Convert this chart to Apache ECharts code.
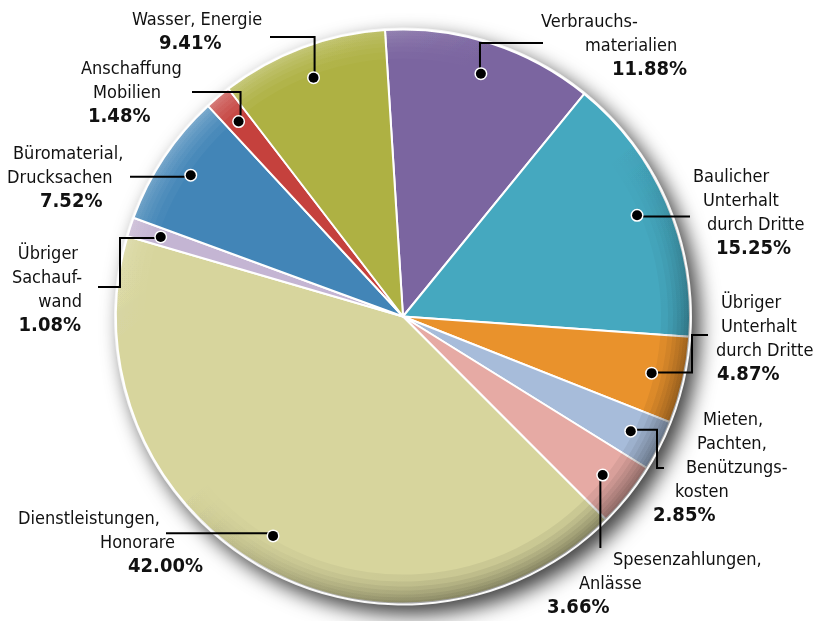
<!DOCTYPE html>
<html>
<head>
<meta charset="utf-8">
<script src="https://cdn.jsdelivr.net/npm/echarts@6/dist/echarts.min.js"></script>
<style>html,body{margin:0;padding:0;background:#fff}#c{width:816px;height:621px}</style>
</head>
<body>
<div id="c"></div>
<script>
// ---- data ----
const categories = ['Verbrauchsmaterialien', 'Baulicher Unterhalt durch Dritte', 'Übriger Unterhalt durch Dritte',
  'Mieten, Pachten, Benützungskosten', 'Spesenzahlungen, Anlässe', 'Dienstleistungen, Honorare',
  'Übriger Sachaufwand', 'Büromaterial, Drucksachen', 'Anschaffung Mobilien', 'Wasser, Energie'];
const values = [11.88, 15.25, 4.87, 2.85, 3.66, 42.00, 1.08, 7.52, 1.48, 9.41];
const labelLines = [
  ['Verbrauchs-', 'materialien'],
  ['Baulicher', 'Unterhalt', 'durch Dritte'],
  ['Übriger', 'Unterhalt', 'durch Dritte'],
  ['Mieten,', 'Pachten,', 'Benützungs-', 'kosten'],
  ['Spesenzahlungen,', 'Anlässe'],
  ['Dienstleistungen,', 'Honorare'],
  ['Übriger', 'Sachauf-', 'wand'],
  ['Büromaterial,', 'Drucksachen'],
  ['Anschaffung', 'Mobilien'],
  ['Wasser, Energie']
];
const colors = ['#7B65A0', '#45A8BF', '#E9922C', '#A7BCDA', '#E6AAA4', '#D7D59D', '#C4B5D3', '#4285B7', '#C5413D', '#AEB143'];

// ---- layout / style (positions of annotation texts and callout routes) ----
const labelPlace = [
  {x: 541, y: 10, align: 'left', dx: [0, 44, 71]},
  {x: 693, y: 165, align: 'left', dx: [0, 10, 14, 23]},
  {x: 716, y: 291, align: 'left', dx: [5, 5, 0, 1]},
  {x: 653, y: 408, align: 'left', dx: [50, 44, 33, 22, 0]},
  {x: 547, y: 548, align: 'left', dx: [66, 32, 0]},
  {x: 18, y: 507, align: 'left', dx: [0, 82, 110]},
  {x: 82, y: 242, align: 'right', dx: [-4, 0, 0, -1]},
  {x: 7, y: 142, align: 'left', dx: [6, 0, 33]},
  {x: 81, y: 57, align: 'left', dx: [0, 12, 7]},
  {x: 132, y: 8, align: 'left', dx: [0, 27]}
];
const routes = [
  [['y', 43], ['x', 543]],
  [['x', 690]],
  [['x', 692], ['y', 335], ['x', 708]],
  [['x', 657], ['y', 468], ['x', 664]],
  [['y', 548]],
  [['x', 166]],
  [['x', 120], ['y', 287], ['x', 98]],
  [['x', 130]],
  [['y', 92], ['x', 192]],
  [['y', 37], ['x', 270]]
];

const FONT = '"DejaVu Sans Condensed", "Liberation Sans Narrow", "Open Sans", sans-serif';
const CENTER = [403, 316.5];
const R = 287;
const R_DOT = 252;
const START = 93.6;
const RING_STARTS = [258, 265, 270, 274, 278, 281, 284];

function buildLabel(i) {
  const lines = labelLines[i].concat([values[i].toFixed(2) + '%']);
  const place = labelPlace[i];
  const rich = {};
  const parts = lines.map((t, k) => {
    const d = place.dx[k] || 0;
    const bold = k === lines.length - 1;
    rich['l' + k] = {
      fontFamily: FONT,
      fontSize: bold ? 20 : 18,
      fontWeight: bold ? 'bold' : 'normal',
      color: '#111',
      lineHeight: 24,
      align: place.align,
      padding: place.align === 'right' ? [0, -d, 0, 0] : [0, 0, 0, d]
    };
    return '{l' + k + '|' + t + '}';
  });
  return {formatter: parts.join('\n'), rich: rich};
}

const lineData = categories.map((n, i) => ({name: n, value: values[i], label: buildLabel(i)}));
const mainData = categories.map((n, i) => ({name: n, value: values[i], itemStyle: {color: colors[i]}}));
const plainData = categories.map((n, i) => ({name: n, value: values[i]}));

function ringGrad(a1, a2) {
  return {
    type: 'linear', x: 0.1, y: 0, x2: 0.9, y2: 1,
    colorStops: [
      {offset: 0, color: 'rgba(255,255,255,' + a1 + ')'},
      {offset: 0.3, color: 'rgba(255,255,255,0)'},
      {offset: 0.5, color: 'rgba(0,0,0,0)'},
      {offset: 0.8, color: 'rgba(0,0,0,' + (a2 * 0.8) + ')'},
      {offset: 1, color: 'rgba(0,0,0,' + a2 + ')'}
    ]
  };
}
function ring(r0, a1, a2, z) {
  return {
    type: 'pie', silent: true, z: z, center: CENTER, radius: [r0, R], startAngle: START,
    label: {show: false}, labelLine: {show: false}, emphasis: {disabled: true},
    itemStyle: {color: ringGrad(a1, a2), borderWidth: 0},
    data: [{value: 1}]
  };
}

const series = [
  { // backing disc with drop shadow
    type: 'pie', silent: true, z: 0, center: CENTER, radius: R + 2, startAngle: START,
    label: {show: false}, labelLine: {show: false}, emphasis: {disabled: true},
    itemStyle: {color: '#f4f4f4', shadowBlur: 20, shadowOffsetX: 8, shadowOffsetY: 9, shadowColor: 'rgba(0,0,0,0.75)'},
    data: [{value: 1}]
  },
  {
    type: 'pie', silent: true, z: 1, center: CENTER, radius: R, startAngle: START, clockwise: true,
    label: {show: false}, labelLine: {show: false}, emphasis: {disabled: true},
    itemStyle: {borderColor: '#fff', borderWidth: 2},
    data: mainData
  }
];
RING_STARTS.forEach(r0 => series.push(ring(r0, 0.08, 0.075, 2)));
series.push(
  { // callout lines + texts
    type: 'pie', silent: true, z: 3, center: CENTER, radius: [0, R_DOT], startAngle: START, clockwise: true,
    avoidLabelOverlap: false, minShowLabelAngle: 0,
    itemStyle: {color: 'rgba(0,0,0,0)', borderWidth: 0},
    emphasis: {disabled: true},
    label: {show: true, position: 'outside'},
    labelLine: {show: true, length: 10, length2: 10, smooth: false, lineStyle: {color: '#000', width: 2}},
    labelLayout: function (p) {
      const i = p.dataIndex;
      const start = p.labelLinePoints ? p.labelLinePoints[0] : [0, 0];
      const pts = [[start[0], start[1]]];
      let cur = [start[0], start[1]];
      routes[i].forEach(m => {
        cur = m[0] === 'x' ? [m[1], cur[1]] : [cur[0], m[1]];
        pts.push(cur);
      });
      if (pts.length === 2) pts.push(pts[1]);
      return {
        x: labelPlace[i].x, y: labelPlace[i].y,
        align: labelPlace[i].align, verticalAlign: 'top',
        labelLinePoints: pts
      };
    },
    data: lineData
  },
  { // dots
    type: 'pie', silent: true, z: 4, center: CENTER, radius: [R_DOT - 8, R_DOT + 8], startAngle: START, clockwise: true,
    avoidLabelOverlap: false, minShowLabelAngle: 0,
    itemStyle: {color: 'rgba(0,0,0,0)', borderWidth: 0},
    emphasis: {disabled: true},
    label: {
      show: true, position: 'inside', formatter: ' ', fontSize: 1,
      width: 10, height: 10, padding: 0, backgroundColor: '#000',
      borderColor: '#fff', borderWidth: 1.5, borderRadius: 5
    },
    labelLine: {show: false},
    data: plainData
  }
);

const chart = echarts.init(document.getElementById('c'), null, {renderer: 'canvas'});
chart.setOption({animation: false, backgroundColor: '#fff', series: series});
</script>
</body>
</html>
